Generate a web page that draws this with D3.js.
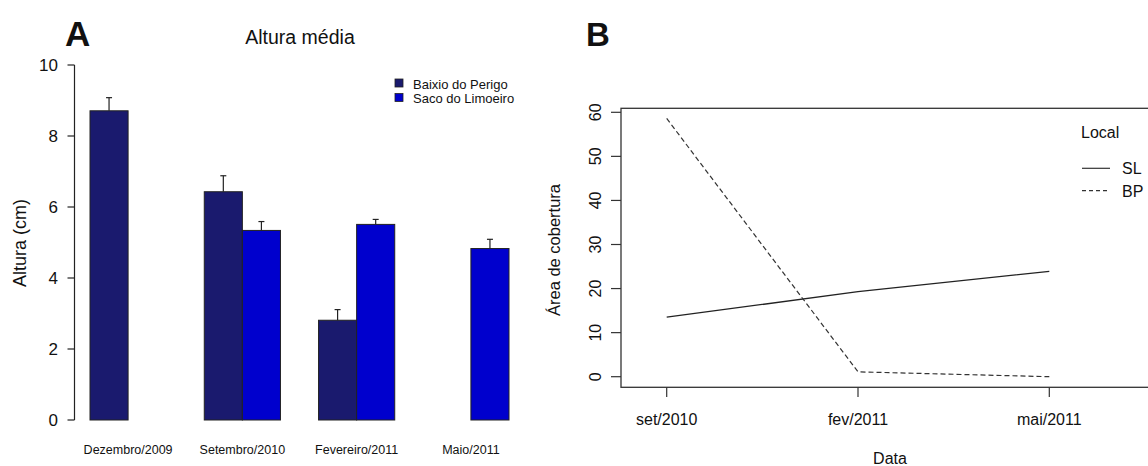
<!DOCTYPE html>
<html>
<head>
<meta charset="utf-8">
<script src="https://cdn.jsdelivr.net/npm/d3@7"></script>
<style>
  body { margin: 0; background: #fff; }
  text { font-family: "Liberation Sans", Arial, sans-serif; fill: #111; }
</style>
</head>
<body>
<div id="chart"></div>
<script>
// Painel A - altura media
var meses = ["Dezembro/2009", "Setembro/2010", "Fevereiro/2011", "Maio/2011"];
var alturaBP = [8.71, 6.43, 2.81, null];
var erroBP = [9.08, 6.88, 3.11, null];
var alturaSL = [null, 5.34, 5.51, 4.83];
var erroSL = [null, 5.59, 5.65, 5.09];
var ticksA = [0, 2, 4, 6, 8, 10];

// Painel B - area de cobertura
var datas = ["set/2010", "fev/2011", "mai/2011"];
var coberturaSL = [13.5, 19.3, 23.9];
var coberturaBP = [58.6, 1.1, 0];
var ticksB = [0, 10, 20, 30, 40, 50, 60];

var svg = d3.select("#chart")
  .append("svg")
  .attr("width", 1148)
  .attr("height", 466);

var corBP = "#1a1a6e";
var corSL = "#0000cd";

// ---------- A ----------
var yA = d3.scaleLinear().domain([0, 10]).range([420, 65]);
// unidades de barra do barplot do R (cada grupo = 2 barras + 1 espaco)
var xA = d3.scaleLinear().domain([1, 12]).range([90, 509]);
var w = xA(2) - xA(1);

svg.append("text").text("A")
  .attr("x", 65).attr("y", 46)
  .style("font-size", "35px").style("font-weight", "bold");

svg.append("text").text("Altura média")
  .attr("x", 300).attr("y", 44)
  .attr("text-anchor", "middle")
  .style("font-size", "19.5px");

svg.append("line")
  .attr("x1", 74.5).attr("x2", 74.5)
  .attr("y1", yA(0)).attr("y2", yA(10))
  .style("stroke", "#222").style("stroke-width", "1.2px");

ticksA.forEach(function(t) {
  svg.append("line")
    .attr("x1", 67.5).attr("x2", 74.5)
    .attr("y1", yA(t)).attr("y2", yA(t))
    .style("stroke", "#222").style("stroke-width", "1.2px");
  svg.append("text").text(t)
    .attr("x", 58).attr("y", yA(t))
    .attr("text-anchor", "end")
    .attr("dominant-baseline", "central")
    .style("font-size", "17px");
});

svg.append("text").text("Altura (cm)")
  .attr("transform", "translate(26,243) rotate(-90)")
  .attr("text-anchor", "middle")
  .style("font-size", "18px");

function barra(u, v, e, cor) {
  if (v == null) return;
  svg.append("rect")
    .attr("x", xA(u)).attr("width", w)
    .attr("y", yA(v)).attr("height", yA(0) - yA(v))
    .style("fill", cor).style("stroke", "#222").style("stroke-width", "1px");
  var cx = xA(u) + w / 2;
  svg.append("line")
    .attr("x1", cx).attr("x2", cx)
    .attr("y1", yA(v)).attr("y2", yA(e))
    .style("stroke", "#222").style("stroke-width", "1.2px");
  svg.append("line")
    .attr("x1", cx - 3).attr("x2", cx + 3)
    .attr("y1", yA(e)).attr("y2", yA(e))
    .style("stroke", "#222").style("stroke-width", "1.2px");
}

meses.forEach(function(m, i) {
  var u = 1 + 3 * i;
  barra(u, alturaBP[i], erroBP[i], corBP);
  barra(u + 1, alturaSL[i], erroSL[i], corSL);
  svg.append("text").text(m)
    .attr("x", xA(u + 1)).attr("y", 454)
    .attr("text-anchor", "middle")
    .style("font-size", "12.5px");
});

var legendaA = [{text: "Baixio do Perigo", cor: corBP}, {text: "Saco do Limoeiro", cor: corSL}];
legendaA.forEach(function(d, i) {
  var cy = 84 + i * 14.5;
  svg.append("rect")
    .attr("x", 395).attr("y", cy - 5).attr("width", 8).attr("height", 8)
    .style("fill", d.cor).style("stroke", "#222").style("stroke-width", "0.8px");
  svg.append("text").text(d.text)
    .attr("x", 413).attr("y", cy)
    .attr("dominant-baseline", "central")
    .style("font-size", "13px");
});

// ---------- B ----------
var xB = d3.scalePoint().domain(datas).range([666.7, 1049.3]);
var yB = d3.scaleLinear().domain([0, 60]).range([376.7, 112.3]);

svg.append("text").text("B")
  .attr("x", 586).attr("y", 46)
  .style("font-size", "33px").style("font-weight", "bold");

svg.append("rect")
  .attr("x", 621).attr("y", 108.3)
  .attr("width", 560).attr("height", 387.3 - 108.3)
  .style("fill", "none").style("stroke", "#333").style("stroke-width", "1.3px");

ticksB.forEach(function(t) {
  svg.append("line")
    .attr("x1", 611).attr("x2", 621)
    .attr("y1", yB(t)).attr("y2", yB(t))
    .style("stroke", "#333").style("stroke-width", "1.2px");
  svg.append("text").text(t)
    .attr("transform", "translate(601," + yB(t) + ") rotate(-90)")
    .attr("text-anchor", "middle")
    .style("font-size", "16px");
});

datas.forEach(function(d) {
  svg.append("line")
    .attr("x1", xB(d)).attr("x2", xB(d))
    .attr("y1", 387.3).attr("y2", 397)
    .style("stroke", "#333").style("stroke-width", "1.2px");
  svg.append("text").text(d)
    .attr("x", xB(d)).attr("y", 425)
    .attr("text-anchor", "middle")
    .style("font-size", "16px");
});

svg.append("text").text("Data")
  .attr("x", 890).attr("y", 464)
  .attr("text-anchor", "middle")
  .style("font-size", "16px");

svg.append("text").text("Área de cobertura")
  .attr("transform", "translate(560,250) rotate(-90)")
  .attr("text-anchor", "middle")
  .style("font-size", "16.5px");

var linha = d3.line()
  .x(function(d, i) { return xB(datas[i]); })
  .y(function(d) { return yB(d); });

svg.append("path").attr("d", linha(coberturaSL))
  .style("fill", "none").style("stroke", "#222").style("stroke-width", "1.3px");
svg.append("path").attr("d", linha(coberturaBP))
  .style("fill", "none").style("stroke", "#333").style("stroke-width", "1.2px")
  .style("stroke-dasharray", "5,3");

svg.append("text").text("Local")
  .attr("x", 1081).attr("y", 138)
  .style("font-size", "16px");

var legendaB = [{text: "SL", dash: null}, {text: "BP", dash: "4,3"}];
legendaB.forEach(function(d, i) {
  var cy = 168.3 + i * 22.4;
  svg.append("line")
    .attr("x1", 1082).attr("x2", 1110)
    .attr("y1", cy).attr("y2", cy)
    .style("stroke", "#333").style("stroke-width", "1.2px")
    .style("stroke-dasharray", d.dash);
  svg.append("text").text(d.text)
    .attr("x", 1122).attr("y", cy + 6)
    .style("font-size", "16px");
});
</script>
</body>
</html>
